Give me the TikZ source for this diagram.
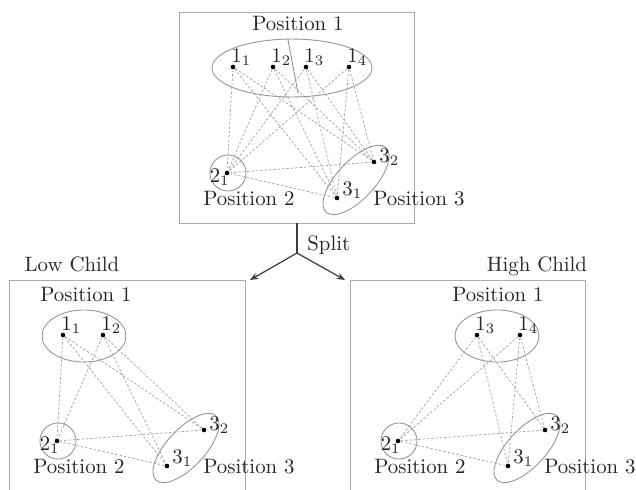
\documentclass[tikz,border=0pt]{standalone}
\usetikzlibrary{shapes.geometric,arrows.meta}
\newcommand\commonparts[1]{%
  \node[grp, circle, minimum size=17.3pt] (#1c2) at (49,161) {};
  \node[grp, ellipse, minimum width=42.2pt, minimum height=18.2pt, rotate=47] (#1e3) at (177,168) {};
  \node[dotn] (#1d21) at (48,161) {};
  \node[dotn] (#1d32) at (195,150) {};
  \node[dotn] (#1d31) at (158,186) {};
  \node[lbl, anchor=base east] (#1l21) at ([shift={(3,9)}]#1d21) {$2_1$};
  \node[lbl, anchor=base west] (#1l32) at ([shift={(5,0)}]#1d32) {$3_2$};
  \node[lbl, anchor=base west] (#1l31) at ([shift={(5,-3)}]#1d31) {$3_1$};
  \node[lbl, anchor=base] (#1p2) at (70,193) {Position 2};
  \node[lbl, anchor=base] (#1p3) at (240,193) {Position 3};
  \draw[link] (#1d21) -- (#1d31);
  \draw[link] (#1d21) -- (#1d32);
}
\newcommand\topdot[4]{% prefix, index, x, y
  \node[dotn] (#1d1#2) at (#3,#4) {};
  \node[lbl, anchor=base west] (#1l1#2) at ([shift={(-2,-5)}]#1d1#2) {$1_#2$};
  \draw[link] (#1d1#2) -- (#1d21);
  \draw[link] (#1d1#2) -- (#1d31);
  \draw[link] (#1d1#2) -- (#1d32);
}
\begin{document}
\begin{tikzpicture}[x=0.48pt,y=-0.48pt,
  boxline/.style={draw=black!33, line width=0.45pt},
  grp/.style={draw=black!42, line width=0.42pt, inner sep=0pt},
  dotn/.style={circle, fill=black, inner sep=0pt, minimum size=2.2pt},
  link/.style={draw=black!36, line width=0.35pt, dash pattern=on 1.2pt off 0.9pt},
  lbl/.style={inner sep=0pt, text=black!85},
  arr/.style={draw=black!75, line width=0.6pt, -{Stealth[length=4pt,width=3.2pt]}}
]
\useasboundingbox (0,0) rectangle (636,490);

% ---------- parent ----------
\begin{scope}[shift={(179,12)}]
  \node[boxline, rectangle, minimum width=112.8pt, minimum height=101.3pt, inner sep=0pt] (topbox) at (117.5,105.5) {};
  \node[lbl, anchor=base] (tp1) at (119,18) {Position 1};
  \node[grp, ellipse, minimum width=76.8pt, minimum height=27.8pt] (te1) at (113,56) {};
  \coordinate (tsa) at (109,28);
  \coordinate (tsb) at (119,81);
  \draw[draw=black!45, line width=0.4pt] (tsa) -- (tsb);
  \commonparts{t}
  \topdot{t}{1}{54}{55}
  \topdot{t}{2}{94}{55}
  \topdot{t}{3}{127}{55}
  \topdot{t}{4}{170}{55}
\end{scope}

% ---------- split ----------
\coordinate (sp) at (297,253);
\coordinate (lowtip) at (250,280);
\coordinate (hightip) at (345,280);
\draw[draw=black!75, line width=0.6pt] (topbox.south -| sp) -- (sp);
\draw[arr] (sp) -- (lowtip);
\draw[arr] (sp) -- (hightip);
\node[lbl, anchor=base west] (split) at (307,250) {Split};

% ---------- low child ----------
\node[lbl, anchor=base] (lowlbl) at (72,271) {Low Child};
\begin{scope}[shift={(9,280)}]
  \coordinate (lbl1) at (0,212);
  \coordinate (lbtl) at (0,0);
  \coordinate (lbtr) at (236,0);
  \coordinate (lbr) at (236,212);
  \draw[boxline] (lbl1) -- (lbtl) -- (lbtr) -- (lbr);
  \node[lbl, anchor=base] (lp1) at (77,21) {Position 1};
  \node[grp, ellipse, minimum width=40.3pt, minimum height=25pt] (le1) at (75,56) {};
  \commonparts{l}
  \topdot{l}{1}{54}{55}
  \topdot{l}{2}{94}{55}
\end{scope}

% ---------- high child ----------
\node[lbl, anchor=base] (highlbl) at (537,271) {High Child};
\begin{scope}[shift={(350,280)}]
  \coordinate (hbl) at (0,212);
  \coordinate (hbtl) at (0,0);
  \coordinate (hbtr) at (235,0);
  \coordinate (hbr) at (235,212);
  \draw[boxline] (hbl) -- (hbtl) -- (hbtr) -- (hbr);
  \node[lbl, anchor=base] (hp1) at (148,21) {Position 1};
  \node[grp, ellipse, minimum width=40.3pt, minimum height=25pt] (he1) at (147,56) {};
  \commonparts{h}
  \topdot{h}{3}{127}{55}
  \topdot{h}{4}{170}{55}
\end{scope}
\end{tikzpicture}
\end{document}
